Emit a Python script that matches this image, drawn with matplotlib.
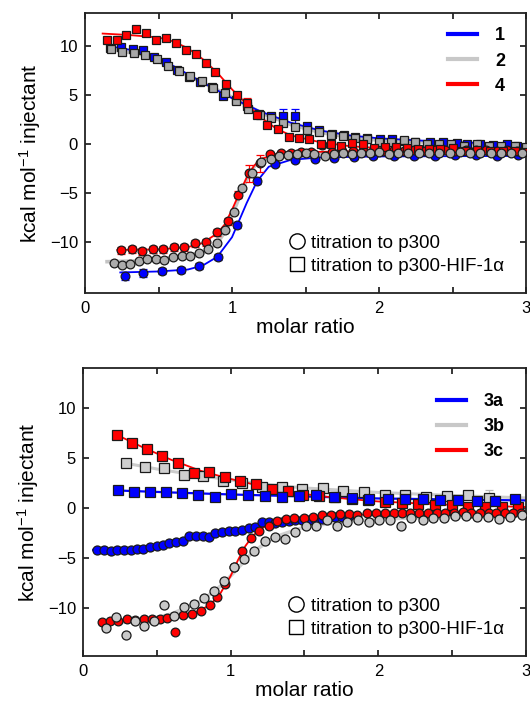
import matplotlib
matplotlib.use("Agg")
import matplotlib.pyplot as plt
from matplotlib.lines import Line2D
from matplotlib.ticker import FixedLocator

plt.rcParams['font.family'] = ['Liberation Sans', 'DejaVu Sans']
plt.rcParams['mathtext.fontset'] = 'custom'
plt.rcParams['mathtext.rm'] = 'Liberation Sans'
plt.rcParams['mathtext.it'] = 'Liberation Sans:italic'

# ---------------- top panel data (compounds 1, 2, 4) ----------------
sq4_x = [0.147,0.215,0.279,0.347,0.415,0.483,0.551,0.619,0.687,0.755,0.823,0.887,0.957,1.032,1.100,1.172,1.240,1.313,1.386,1.454,1.526,1.603,1.671,1.744,1.816,1.889,1.966,2.039,2.116,2.188,2.265,2.342,2.415,2.501,2.587,2.664,2.755,2.846,2.923,2.993]
sq4_y = [10.68,10.68,11.16,11.80,11.33,10.61,10.88,10.37,9.59,9.25,8.30,7.35,6.19,5.00,4.25,3.03,2.01,1.53,0.75,0.68,0.48,0.07,0.07,-0.17,0.14,0.00,-0.34,-0.27,-0.27,-0.41,-0.48,-0.48,-0.54,-0.41,-0.68,-0.61,-0.68,-0.68,-0.68,-0.75]
sq4_e = [0.3,0.3,0.3,0.3,0.3,0.3,0.3,0.3,0.2,0.2,0.2,0.2,0.2,0.3,0.5,0.3,0.2,0.2,0.2,0.2,0.2,0.2,0.2,0.2,0.2,0.2,0.2,0.2,0.2,0.2,0.2,0.2,0.2,0.2,0.2,0.2,0.2,0.2,0.2,0.2]

sq1_x = [0.170,0.247,0.324,0.392,0.469,0.551,0.628,0.710,0.782,0.862,0.941,1.027,1.100,1.186,1.263,1.345,1.431,1.508,1.590,1.680,1.762,1.839,1.920,2.007,2.088,2.170,2.247,2.347,2.438,2.528,2.601,2.687,2.773,2.868,2.941]
sq1_y = [9.85,9.93,9.73,9.59,8.91,8.40,7.55,6.87,6.40,5.80,4.90,4.56,3.88,3.06,2.86,2.93,2.86,1.84,1.43,1.09,0.95,0.75,0.68,0.58,0.48,0.31,0.24,0.24,0.20,0.17,0.07,0.00,-0.07,0.00,-0.14]
sq1_e = [0.2,0.2,0.2,0.2,0.2,0.2,0.2,0.2,0.2,0.2,0.2,0.2,0.2,0.2,0.2,0.7,0.7,0.2,0.2,0.2,0.2,0.2,0.2,0.2,0.2,0.2,0.2,0.2,0.2,0.2,0.2,0.2,0.2,0.2,0.2]

sq2_x = [0.175,0.252,0.333,0.408,0.488,0.562,0.639,0.714,0.794,0.873,0.950,1.027,1.109,1.190,1.268,1.345,1.431,1.508,1.590,1.671,1.753,1.834,1.916,1.998,2.084,2.170,2.247,2.324,2.406,2.492,2.578,2.664,2.751,2.832,2.923,3.000]
sq2_y = [9.69,9.46,9.32,9.08,8.71,8.03,7.48,6.97,6.46,5.75,5.20,4.42,3.64,3.03,2.65,2.14,1.73,1.43,1.29,0.92,0.82,0.61,0.51,0.27,0.27,0.41,0.27,0.07,0.00,0.07,-0.20,0.07,-0.20,-0.20,-0.20,-0.27]

c1_x = [0.274,0.397,0.524,0.651,0.778,0.905,1.036,1.168,1.295,1.431,1.562,1.694,1.830,1.961,2.102,2.238,2.379,2.519,2.660,2.800,2.946]
c1_y = [-13.47,-13.13,-12.99,-12.86,-12.45,-11.50,-8.23,-3.74,-2.04,-1.63,-1.50,-1.36,-1.29,-1.22,-1.22,-1.22,-1.16,-1.09,-1.09,-1.22,-1.09]
c1_e = [0.4,0.4,0.3,0.3,0.3,0.3,0.3,0.3,0.2,0.2,0.2,0.2,0.2,0.2,0.2,0.2,0.2,0.2,0.2,0.2,0.2]

c4_x = [0.245,0.317,0.390,0.463,0.533,0.608,0.676,0.748,0.825,0.898,0.971,1.043,1.118,1.190,1.260,1.330,1.400,1.470,1.540,1.610,1.680,1.750,1.820,1.890,1.960,2.030,2.100,2.170,2.240,2.310,2.380,2.450,2.520,2.590,2.660,2.730,2.800,2.870,2.940]
c4_y = [-10.82,-10.75,-10.92,-10.75,-10.75,-10.54,-10.54,-10.13,-10.00,-9.01,-7.89,-5.17,-2.99,-1.97,-1.00,-0.90,-0.85,-0.80,-0.80,-0.10,-0.75,-0.70,-0.70,-0.65,-0.70,-0.65,-0.60,-0.70,-0.60,-0.65,-0.60,-0.60,-0.65,-0.55,-0.60,-0.60,-0.70,-0.60,-0.65]
c4_e = [0.35,0.35,0.35,0.35,0.35,0.35,0.35,0.35,0.35,0.35,0.35,0.35,0.9,0.9,0.2,0.2,0.2,0.2,0.2,0.2,0.2,0.2,0.2,0.2,0.2,0.2,0.2,0.2,0.2,0.2,0.2,0.2,0.2,0.2,0.2,0.2,0.2,0.2,0.2]

c2_x = [0.195,0.249,0.308,0.367,0.422,0.481,0.540,0.599,0.658,0.717,0.776,0.834,0.898,0.952,1.016,1.070,1.136,1.196,1.263,1.317,1.381,1.440,1.503,1.560,1.630,1.694,1.753,1.816,1.880,1.940,2.000,2.070,2.130,2.200,2.270,2.340,2.410,2.480,2.550,2.620,2.690,2.760,2.830,2.900,2.970]
c2_y = [-12.11,-12.38,-12.24,-11.90,-11.77,-11.70,-11.84,-11.56,-11.43,-11.43,-11.16,-10.75,-10.13,-8.78,-6.90,-4.52,-2.99,-1.84,-1.50,-1.16,-1.09,-1.02,-0.88,-1.02,-1.16,-1.02,-0.95,-1.02,-0.95,-0.95,-0.82,-1.02,-0.95,-0.90,-0.95,-0.85,-0.90,-0.95,-0.80,-0.85,-0.90,-0.85,-0.90,-0.85,-0.90]

# fitted curves
f4_x = [0.12,0.30,0.50,0.60,0.70,0.80,0.90,1.00,1.10,1.20,1.30,1.40,1.60,1.80,2.00,2.50,3.00]
f4_y = [11.30,11.15,10.90,10.50,9.80,8.70,7.30,5.60,4.10,2.70,1.60,0.90,0.20,-0.20,-0.40,-0.60,-0.70]
f1_x = [0.17,0.40,0.60,0.80,1.00,1.20,1.40,1.60,1.80,2.00,2.50,3.00]
f1_y = [10.00,9.40,8.00,6.30,4.70,3.30,2.20,1.40,0.90,0.60,0.20,0.00]
f2_x = [0.17,0.40,0.60,0.80,1.00,1.20,1.40,1.60,1.80,2.00,2.50,3.00]
f2_y = [9.70,9.10,7.80,6.30,4.80,3.20,2.00,1.20,0.70,0.40,0.10,-0.10]
fc1_x = [0.24,0.50,0.70,0.80,0.90,1.00,1.10,1.17,1.25,1.40,1.60,2.00,3.00]
fc1_y = [-13.10,-13.00,-12.80,-12.40,-11.50,-9.50,-6.00,-3.80,-2.30,-1.60,-1.35,-1.25,-1.20]
fc4_x = [0.22,0.50,0.70,0.80,0.90,0.95,1.00,1.05,1.10,1.15,1.20,1.30,1.50,2.00,3.00]
fc4_y = [-10.80,-10.75,-10.50,-10.10,-9.10,-8.20,-6.70,-5.00,-3.40,-2.20,-1.50,-1.00,-0.80,-0.70,-0.70]
fc2_x = [0.15,0.40,0.60,0.80,0.90,0.95,1.00,1.05,1.10,1.15,1.20,1.30,1.50,2.00,3.00]
fc2_y = [-12.00,-11.90,-11.60,-11.10,-10.10,-9.00,-7.30,-5.40,-3.60,-2.30,-1.60,-1.20,-1.00,-0.90,-0.90]

# ---------------- bottom panel data (compounds 3a, 3b, 3c) ----------------
sq3c_x = [0.230,0.334,0.433,0.537,0.645,0.749,0.853,0.961,1.061,1.173,1.278,1.386,1.489,1.600,1.710,1.820,1.930,2.045,2.158,2.270,2.383,2.496,2.609,2.722,2.835,2.947]
sq3c_y = [7.33,6.47,5.93,5.20,4.53,3.53,3.60,3.13,2.73,2.40,1.93,1.67,1.33,1.20,1.05,0.92,0.80,0.60,0.47,0.37,0.30,0.27,0.13,0.07,0.13,0.13]
sq3b_x = [0.289,0.420,0.551,0.682,0.812,0.948,1.079,1.214,1.349,1.485,1.623,1.762,1.903,2.043,2.182,2.322,2.462,2.609,2.751]
sq3b_y = [4.53,4.07,4.00,3.33,3.20,2.67,2.53,2.13,2.13,1.87,2.00,1.67,1.60,1.33,1.27,1.13,1.20,1.27,1.00]
sq3b_e = [0.1,0.1,0.1,0.1,0.1,0.1,0.1,0.1,0.1,0.1,0.1,0.1,0.1,0.1,0.1,0.1,0.1,0.1,0.8]
sq3a_x = [0.235,0.343,0.452,0.560,0.672,0.781,0.894,1.002,1.119,1.232,1.349,1.462,1.578,1.699,1.819,1.939,2.067,2.180,2.300,2.420,2.540,2.670,2.790,2.925]
sq3a_y = [1.80,1.60,1.60,1.60,1.47,1.33,1.13,1.40,1.27,1.20,1.13,1.20,1.27,1.07,0.97,0.87,0.87,0.87,0.87,0.80,0.80,0.73,0.73,0.87]

c3a_x = [0.097,0.142,0.187,0.232,0.278,0.323,0.363,0.408,0.454,0.499,0.539,0.584,0.630,0.675,0.720,0.765,0.810,0.855,0.896,0.941,0.986,1.031,1.077,1.122,1.167,1.212,1.257,1.302,1.347,1.393,1.437,1.483,1.528,1.573,1.618,1.664,1.708,1.754,1.800]
c3a_y = [-4.20,-4.20,-4.27,-4.20,-4.20,-4.20,-4.13,-4.07,-3.93,-3.80,-3.67,-3.53,-3.40,-3.27,-2.80,-2.80,-2.80,-2.87,-2.47,-2.40,-2.33,-2.27,-2.20,-2.00,-1.87,-1.40,-1.40,-1.53,-1.40,-1.33,-1.20,-1.20,-1.20,-1.07,-1.07,-0.93,-0.93,-0.87,-0.80]
c3c_x = [0.126,0.180,0.239,0.296,0.350,0.410,0.465,0.521,0.571,0.625,0.679,0.738,0.801,0.860,0.909,0.964,1.020,1.074,1.136,1.194,1.257,1.315,1.374,1.432,1.494,1.557,1.616,1.679,1.740,1.800,1.853,1.922,1.984,2.047,2.106,2.160,2.214,2.277,2.336,2.395,2.453,2.512,2.571,2.629,2.688,2.747,2.800,2.859,2.913,2.967]
c3c_y = [-11.40,-11.30,-11.27,-11.13,-11.20,-11.15,-11.10,-11.13,-11.00,-12.40,-10.67,-10.60,-10.27,-9.67,-8.93,-7.60,-5.90,-4.27,-3.00,-2.33,-1.80,-1.33,-1.13,-1.00,-1.00,-0.87,-0.73,-0.73,-0.65,-0.65,-0.67,-0.53,-0.53,-0.53,-0.53,-0.47,-0.53,-0.47,-0.47,-0.47,-0.53,-0.47,-0.40,-0.53,-0.47,-0.47,-0.47,-0.47,-0.53,-0.47]
c3b_x = [0.153,0.221,0.289,0.352,0.415,0.483,0.551,0.618,0.682,0.749,0.817,0.889,0.957,1.024,1.092,1.160,1.232,1.300,1.368,1.437,1.509,1.577,1.650,1.722,1.790,1.862,1.935,2.007,2.079,2.152,2.224,2.301,2.373,2.445,2.517,2.594,2.666,2.743,2.820,2.892,2.970]
c3b_y = [-12.00,-10.87,-12.73,-11.27,-11.80,-11.27,-9.73,-10.80,-9.87,-9.60,-9.00,-8.33,-7.27,-5.87,-5.07,-4.27,-3.33,-2.87,-3.13,-2.40,-1.80,-1.80,-1.20,-1.80,-1.40,-1.20,-1.40,-1.20,-1.20,-1.80,-1.00,-1.20,-1.00,-1.00,-0.80,-0.80,-0.93,-0.93,-1.13,-0.93,-0.67]

f3c_x = [0.23,0.40,0.60,0.80,1.00,1.20,1.40,1.60,1.80,2.00,2.50,3.00]
f3c_y = [7.30,6.10,4.80,3.70,2.90,2.20,1.60,1.20,0.90,0.65,0.30,0.10]
f3b_x = [0.28,0.50,0.80,1.00,1.20,1.50,2.00,2.50,3.00]
f3b_y = [4.50,3.90,3.20,2.80,2.40,2.00,1.55,1.25,1.00]
f3a_x = [0.23,0.60,1.00,1.50,2.00,2.50,3.00]
f3a_y = [1.75,1.55,1.35,1.15,0.95,0.85,0.75]
fc3a_x = [0.07,0.30,0.45,0.60,0.70,0.85,1.00,1.15,1.30,1.50,1.80]
fc3a_y = [-4.20,-4.20,-4.00,-3.50,-3.10,-2.80,-2.35,-1.90,-1.50,-1.20,-0.85]
fc3c_x = [0.12,0.40,0.60,0.75,0.85,0.92,1.00,1.05,1.10,1.15,1.20,1.30,1.50,2.00,3.00]
fc3c_y = [-11.40,-11.20,-10.90,-10.50,-9.80,-8.80,-6.80,-5.20,-3.80,-2.80,-2.10,-1.40,-0.90,-0.60,-0.50]
fc3b_x = [0.12,0.40,0.60,0.80,0.95,1.05,1.15,1.30,1.50,1.80,2.20,3.00]
fc3b_y = [-11.60,-11.30,-10.60,-9.30,-7.60,-6.00,-4.40,-2.90,-1.90,-1.30,-1.00,-0.80]

top_labels = ['1', '2', '4']
bot_labels = ['3a', '3b', '3c']
leg2_labels = ['titration to p300', 'titration to p300-HIF-1\u03b1']

BLUE = '#0000ff'
RED = '#ff0000'
GRAYL = '#c4c4c4'
EDGE = '#1a1a1a'

fig = plt.figure(figsize=(5.30, 7.03), dpi=100)
ax1 = fig.add_axes([0.1604, 0.5832, 0.8321, 0.3983])
ax2 = fig.add_axes([0.1566, 0.0669, 0.8358, 0.4097])


def line(ax, x, y, c, lw=1.3, z=2):
    ax.plot(x, y, '-', color=c, lw=lw, zorder=z)


def pts(ax, x, y, fc, m, ms=6.3, yerr=None, ec=None, z=4):
    if yerr is not None:
        ax.errorbar(x, y, yerr=yerr, fmt='none', ecolor=ec or fc, elinewidth=0.9,
                    capsize=2.8, capthick=0.9, zorder=z - 1)
    ax.plot(x, y, m, ms=ms, mfc=fc, mec=EDGE, mew=0.9, ls='none', zorder=z)


# ---- top panel ----
line(ax1, f2_x, f2_y, GRAYL, lw=2.6, z=2)
line(ax1, f1_x, f1_y, BLUE, z=2)
line(ax1, f4_x, f4_y, RED, z=2)
line(ax1, fc2_x, fc2_y, GRAYL, lw=2.6, z=2)
line(ax1, fc1_x, fc1_y, BLUE, z=2)
line(ax1, fc4_x, fc4_y, RED, z=2)

pts(ax1, sq1_x, sq1_y, BLUE, 's', ms=6.2, yerr=sq1_e, z=4)
pts(ax1, sq2_x, sq2_y, '#a8a8a8', 's', ms=6.2, z=5)
pts(ax1, sq4_x, sq4_y, RED, 's', ms=6.2, yerr=sq4_e, z=6)
pts(ax1, c1_x, c1_y, BLUE, 'o', ms=6.3, yerr=c1_e, z=4)
pts(ax1, c4_x, c4_y, RED, 'o', ms=6.3, yerr=c4_e, z=5)
pts(ax1, c2_x, c2_y, '#ababab', 'o', ms=6.3, z=6)

ax1.set_ylim(-15.2, 13.4)

# ---- bottom panel ----
line(ax2, f3b_x, f3b_y, '#cccccc', lw=2.2, z=2)
line(ax2, f3a_x, f3a_y, BLUE, lw=1.6, z=2)
line(ax2, f3c_x, f3c_y, RED, z=2)
line(ax2, fc3b_x, fc3b_y, '#d0d0d0', lw=2.6, z=2)
line(ax2, fc3a_x, fc3a_y, BLUE, lw=1.8, z=2)
line(ax2, fc3c_x, fc3c_y, RED, z=2)

pts(ax2, sq3a_x, sq3a_y, BLUE, 's', ms=6.5, z=6)
pts(ax2, sq3b_x, sq3b_y, '#cfcfcf', 's', ms=6.5, yerr=sq3b_e, ec='#bbbbbb', z=4)
pts(ax2, sq3c_x, sq3c_y, RED, 's', ms=6.5, z=5)
pts(ax2, c3a_x, c3a_y, BLUE, 'o', ms=6.5, z=4)
pts(ax2, c3c_x, c3c_y, RED, 'o', ms=6.3, z=5)
pts(ax2, c3b_x, c3b_y, '#c8c8c8', 'o', ms=6.5, z=6)

ax2.set_ylim(-14.8, 14.0)

for ax, labs, bb1 in ((ax1, top_labels, (0.985, 1.0)), (ax2, bot_labels, (0.985, 0.963))):
    ax.set_xlim(0, 3)
    ax.xaxis.set_major_locator(FixedLocator([0, 1, 2, 3]))
    ax.xaxis.set_minor_locator(FixedLocator([0.5, 1.5, 2.5]))
    ax.yaxis.set_major_locator(FixedLocator([-10, -5, 0, 5, 10]))
    ax.tick_params(which='both', direction='in', top=True, right=True,
                   length=4.5, width=1.1, labelsize=12, pad=5)
    ax.tick_params(axis='x', pad=6)
    for s in ax.spines.values():
        s.set_linewidth(1.3)
        s.set_color('#222222')
    ax.set_xlabel('molar ratio', fontsize=15, labelpad=1)
    ax.set_ylabel('kcal mol$^{-1}$ injectant', fontsize=15, labelpad=5)

    h1 = [Line2D([], [], color=c, lw=3) for c in (BLUE, '#c8c8c8', RED)]
    leg1 = ax.legend(h1, labs, loc='upper right', bbox_to_anchor=bb1, frameon=False,
                     prop={'size': 13, 'weight': 'bold'}, handlelength=1.6,
                     handletextpad=1.0, labelspacing=0.45, borderaxespad=0.4)
    ax.add_artist(leg1)
    h2 = [Line2D([], [], marker='o', ls='none', ms=11, mfc='white', mec='black', mew=1.0),
          Line2D([], [], marker='s', ls='none', ms=10, mfc='white', mec='black', mew=1.0)]
    ax.legend(h2, leg2_labels, loc='lower right', bbox_to_anchor=(0.975, 0.025), frameon=False,
              fontsize=13.5, handlelength=0.8, handletextpad=0.35, labelspacing=0.3,
              borderaxespad=0.2)

fig.savefig('out.png', dpi=100)
